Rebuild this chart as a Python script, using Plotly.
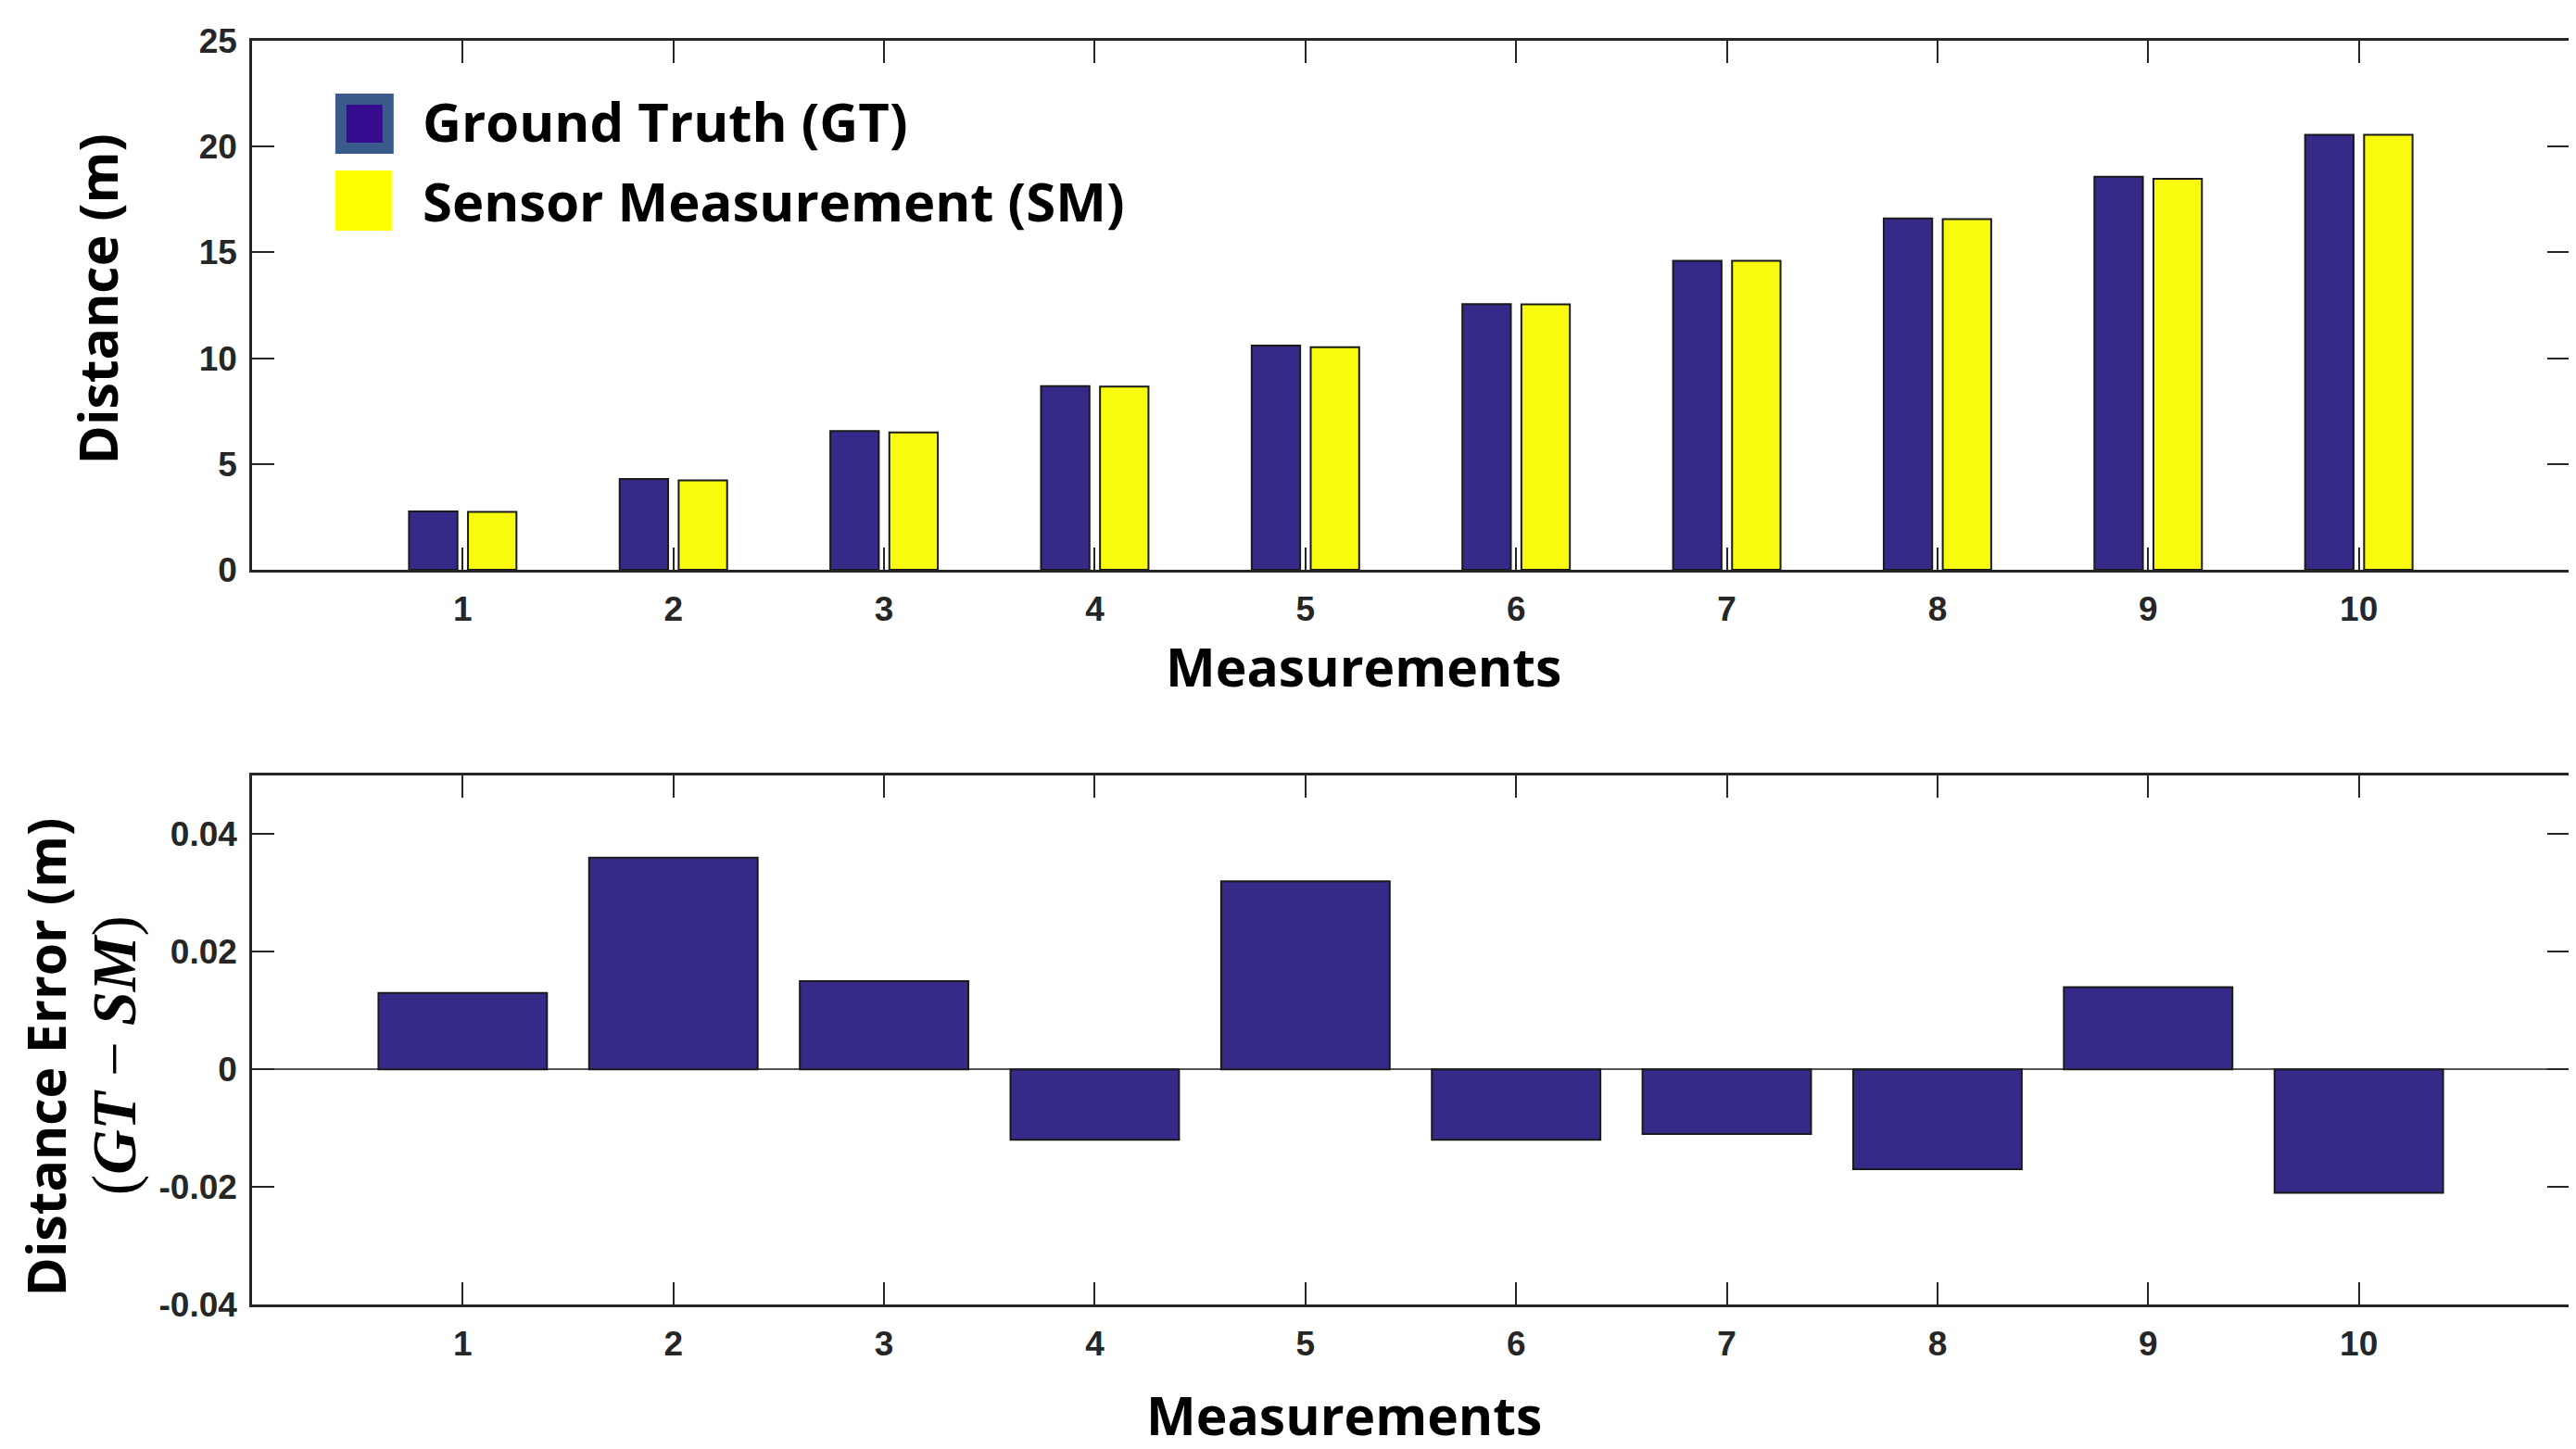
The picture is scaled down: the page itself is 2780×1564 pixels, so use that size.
import plotly.graph_objects as go
from plotly.subplots import make_subplots

# ---- data ----
measurements = [1, 2, 3, 4, 5, 6, 7, 8, 9, 10]
tick_labels_x = ["1", "2", "3", "4", "5", "6", "7", "8", "9", "10"]
ground_truth = [2.76, 4.29, 6.56, 8.68, 10.59, 12.56, 14.60, 16.60, 18.57, 20.56]
sensor_meas = [2.74, 4.22, 6.49, 8.66, 10.52, 12.54, 14.60, 16.57, 18.48, 20.56]
distance_error = [0.013, 0.036, 0.015, -0.012, 0.032, -0.012, -0.011, -0.017, 0.014, -0.021]

top_yticks = [0, 5, 10, 15, 20, 25]
top_yticktext = ["0", "5", "10", "15", "20", "25"]
bot_yticks = [-0.04, -0.02, 0, 0.02, 0.04]
bot_yticktext = ["-0.04", "-0.02", "0", "0.02", "0.04"]

legend_labels = ["Ground Truth (GT)", "Sensor Measurement (SM)"]

# ---- styling ----
W, H = 2780, 1564
L, R, T, B = 264, 12, 36, 164
PW, PH = W - L - R, H - T - B

GT_COLOR = "#352A87"
SM_COLOR = "#F9FB0E"
EDGE = "#1a1a1a"
AX = "#262626"
BIG_FONT = "Open Sans"
TICK_FONT = dict(family="Liberation Sans, Arial", size=37, color=AX, weight="bold")


def px(xp):
    return (xp - L) / PW


def py(yp):
    return 1 - (yp - T) / PH


fig = make_subplots(rows=2, cols=1)

fig.add_trace(go.Bar(x=measurements, y=ground_truth, name=legend_labels[0],
                     marker=dict(color=GT_COLOR, line=dict(color=EDGE, width=2)),
                     width=0.23, offset=-0.255, showlegend=False), row=1, col=1)
fig.add_trace(go.Bar(x=measurements, y=sensor_meas, name=legend_labels[1],
                     marker=dict(color=SM_COLOR, line=dict(color=EDGE, width=2)),
                     width=0.23, offset=0.025, showlegend=False), row=1, col=1)
fig.add_trace(go.Bar(x=measurements, y=distance_error, name="GT - SM",
                     marker=dict(color=GT_COLOR, line=dict(color=EDGE, width=2)),
                     width=0.8, showlegend=False), row=2, col=1)

common_x = dict(range=[0, 11], tickmode="array", tickvals=measurements, ticktext=tick_labels_x,
                ticks="inside", ticklen=24, tickwidth=2, tickcolor=AX,
                showline=True, linecolor=AX, linewidth=2.5, mirror="ticks",
                showgrid=False, zeroline=False, tickfont=TICK_FONT, ticklabelstandoff=8)
common_y = dict(ticks="inside", ticklen=24, tickwidth=2, tickcolor=AX,
                showline=True, linecolor=AX, linewidth=2.5, mirror="ticks",
                showgrid=False, tickfont=TICK_FONT, ticklabelstandoff=6)

fig.update_xaxes(**common_x)
fig.update_yaxes(**common_y)
fig.update_yaxes(range=[0, 25], tickmode="array", tickvals=top_yticks, ticktext=top_yticktext,
                 zeroline=False, row=1, col=1)
fig.update_yaxes(range=[-0.04, 0.05], tickmode="array", tickvals=bot_yticks, ticktext=bot_yticktext,
                 zeroline=True, zerolinecolor="#555555", zerolinewidth=2, row=2, col=1)

fig.update_layout(
    xaxis=dict(domain=[0, 1]), xaxis2=dict(domain=[0, 1]),
    yaxis=dict(domain=[py(607), 1]), yaxis2=dict(domain=[0, py(829)]),
)

big = dict(family=BIG_FONT, size=57, color="black", weight="bold")
legend_font = dict(family=BIG_FONT, size=58, color="black", weight="bold")
annotations = [
    dict(text="Measurements", x=px(1465), y=py(711), xref="paper", yref="paper",
         showarrow=False, font=big, xanchor="center", yanchor="middle"),
    dict(text="Measurements", x=px(1444), y=py(1519), xref="paper", yref="paper",
         showarrow=False, font=big, xanchor="center", yanchor="middle"),
    dict(text="Distance (m)", x=px(97), y=py(315), xref="paper", yref="paper",
         showarrow=False, font=big, textangle=-90, xanchor="center", yanchor="middle"),
    dict(text="Distance Error (m)", x=px(41), y=py(1133), xref="paper", yref="paper",
         showarrow=False, font=big, textangle=-90, xanchor="center", yanchor="middle"),
    dict(text="(<b><i>GT</i></b> \u2212 <b><i>SM</i></b>)", x=px(115), y=py(1131),
         xref="paper", yref="paper", showarrow=False,
         font=dict(family="Liberation Serif, Times New Roman", size=67, color="black"),
         textangle=-90, xanchor="center", yanchor="middle"),
    dict(text=legend_labels[0], x=px(446), y=py(123), xref="paper", yref="paper",
         showarrow=False, font=legend_font, xanchor="left", yanchor="middle"),
    dict(text=legend_labels[1], x=px(446), y=py(208), xref="paper", yref="paper",
         showarrow=False, font=legend_font, xanchor="left", yanchor="middle"),
]

shapes = [
    dict(type="rect", xref="paper", yref="paper", x0=px(360), x1=px(411), y0=py(99), y1=py(152),
         fillcolor="#360C8F", line=dict(color="#3A5A8C", width=12), layer="above"),
    dict(type="rect", xref="paper", yref="paper", x0=px(354), x1=px(415), y0=py(176), y1=py(241),
         fillcolor="#FFFF00", line=dict(width=0), layer="above"),
]

fig.update_layout(
    width=W, height=H,
    margin=dict(l=L, r=R, t=T, b=B),
    paper_bgcolor="white", plot_bgcolor="white",
    annotations=annotations, shapes=shapes,
    showlegend=False,
)

fig.write_html("out.html")
